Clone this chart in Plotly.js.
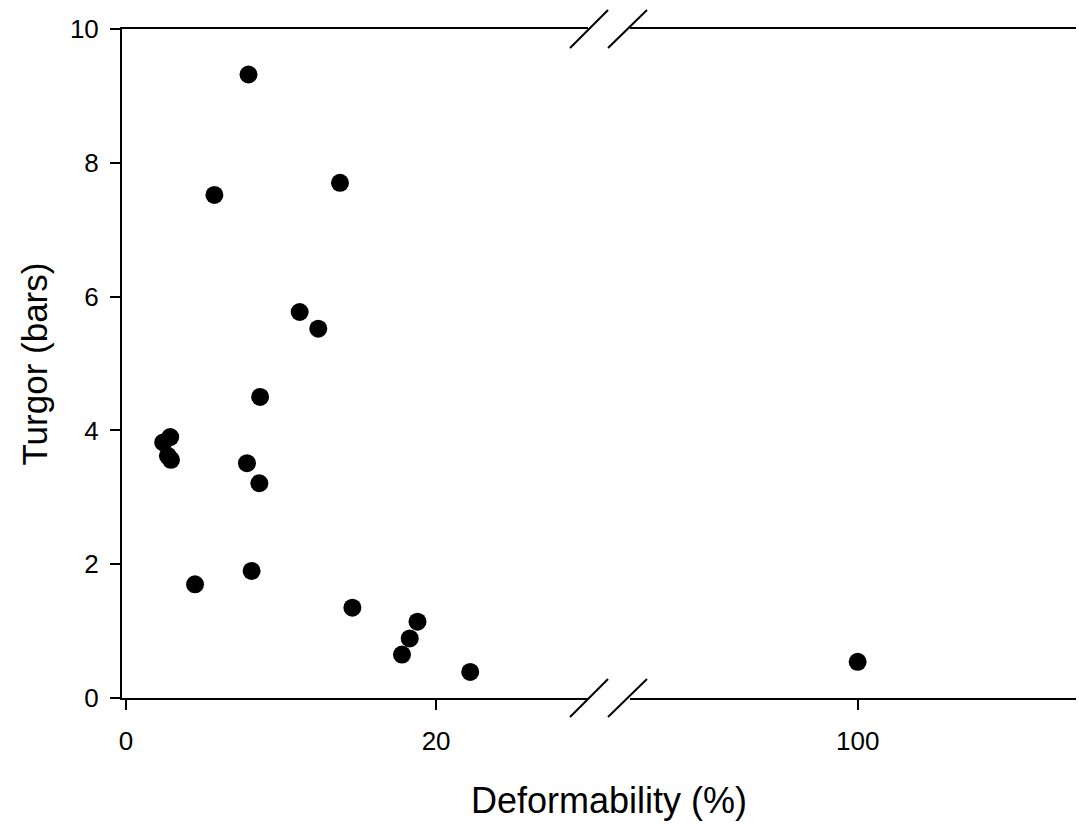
<!DOCTYPE html>
<html>
<head>
<meta charset="utf-8">
<script src="https://cdn.plot.ly/plotly-3.0.1.min.js"></script>
<style>html,body{margin:0;padding:0;background:#fff;}#chart{width:1079px;height:825px;}</style>
</head>
<body>
<div id="chart"></div>
<script>
// Data
const deformability = [7.9, 5.7, 13.8, 11.2, 12.4, 8.65, 2.4, 2.85, 2.7, 2.9, 7.8, 8.6, 8.1, 4.45, 14.6, 18.8, 18.3, 17.8, 22.2, 100];
const turgor        = [9.32, 7.52, 7.7, 5.77, 5.52, 4.5, 3.82, 3.9, 3.62, 3.56, 3.51, 3.21, 1.9, 1.7, 1.35, 1.14, 0.89, 0.65, 0.39, 0.54];
const leftTicks = [0, 20];
const rightTicks = [100];
const yTicks = [0, 2, 4, 6, 8, 10];

const xL = [], yL = [], xR = [], yR = [];
deformability.forEach((x, i) => {
  if (x < 50) { xL.push(x); yL.push(turgor[i]); } else { xR.push(x); yR.push(turgor[i]); }
});

const font = 'Liberation Sans, Arial, sans-serif';
const marker = {color: 'black', size: 18, line: {width: 0}};
const traces = [
  {x: xL, y: yL, type: 'scatter', mode: 'markers', marker: marker, xaxis: 'x', yaxis: 'y', showlegend: false},
  {x: xR, y: yR, type: 'scatter', mode: 'markers', marker: marker, xaxis: 'x2', yaxis: 'y', showlegend: false}
];

const dL = 0.4885, dR = 0.5325;
const axCommon = {
  ticks: 'outside', ticklen: 10, tickwidth: 2, tickcolor: 'black',
  showline: true, mirror: true, linecolor: 'black', linewidth: 2,
  showgrid: false, zeroline: false,
  tickfont: {family: font, size: 26, color: 'black'},
  ticklabelstandoff: 9, anchor: 'y'
};

function slash(anchorX, anchorY, x0, x1) {
  return {type: 'line', xref: 'paper', yref: 'paper', xsizemode: 'pixel', ysizemode: 'pixel',
    xanchor: anchorX, yanchor: anchorY, x0: x0, x1: x1, y0: -19, y1: 19,
    line: {color: 'black', width: 2}};
}

const layout = {
  width: 1079, height: 825,
  margin: {l: 122, r: 3, t: 29, b: 127},
  paper_bgcolor: 'white', plot_bgcolor: 'white',
  xaxis: Object.assign({}, axCommon, {domain: [0, dL], range: [-0.26, 29.8], tickvals: leftTicks}),
  xaxis2: Object.assign({}, axCommon, {domain: [dR, 1], range: [85.3, 114.1], tickvals: rightTicks}),
  yaxis: {
    range: [0, 10], tickvals: yTicks, ticks: 'outside', ticklen: 10, tickwidth: 2, tickcolor: 'black',
    showline: true, linecolor: 'black', linewidth: 2, showgrid: false, zeroline: false,
    tickfont: {family: font, size: 26, color: 'black'}, ticklabelstandoff: 6
  },
  shapes: [
    slash(dL, 0, -18, 20), slash(dR, 0, -22, 17),
    slash(dL, 1, -18, 20), slash(dR, 1, -22, 17)
  ],
  annotations: [
    {text: 'Deformability (%)', xref: 'paper', yref: 'paper', x: 0.51, y: -0.1525,
     showarrow: false, font: {family: font, size: 36, color: 'black'}, xanchor: 'center', yanchor: 'middle'},
    {text: 'Turgor (bars)', xref: 'paper', yref: 'paper', x: -0.0912, y: 0.5, textangle: -90,
     showarrow: false, font: {family: font, size: 35, color: 'black'}, xanchor: 'center', yanchor: 'middle'}
  ]
};

Plotly.newPlot('chart', traces, layout, {displayModeBar: false, staticPlot: true});
</script>
</body>
</html>
